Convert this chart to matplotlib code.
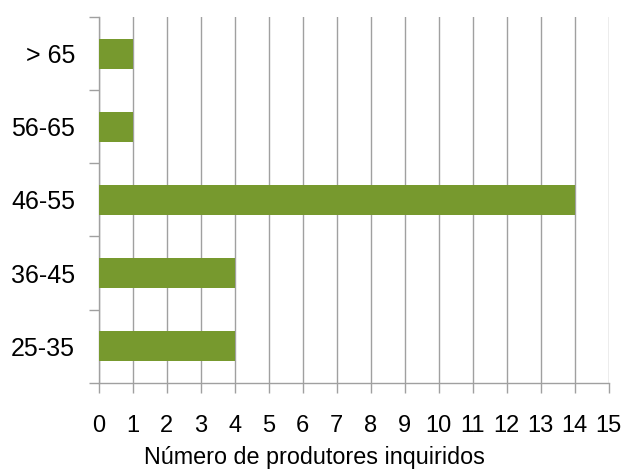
import numpy as np
import matplotlib.pyplot as plt
from matplotlib.ticker import FixedLocator

plt.rcParams['font.family'] = ['Liberation Sans', 'DejaVu Sans']

# dados
faixas = ['25-35', '36-45', '46-55', '56-65', '> 65']
produtores = [4, 4, 14, 1, 1]
x_ticks = list(range(0, 16))

fig = plt.figure(figsize=(6.29, 4.72), dpi=100)
ax = fig.add_axes([0.157, 0.189, 0.811, 0.775])

pos = np.arange(len(faixas))
ax.barh(pos, produtores, height=0.41, color='#77992e', zorder=3)

ax.set_xlim(0, 15)
ax.set_ylim(-0.5, len(faixas) - 0.5)
ax.set_xticks(x_ticks)
ax.set_xticklabels([str(v) for v in x_ticks], fontsize=17)
ax.xaxis.grid(True, color='#a0a0a0', linewidth=1, zorder=0)

# marcas do eixo y nas fronteiras, rotulos no centro
ax.set_yticks(np.arange(-0.5, len(faixas), 1.0))
ax.set_yticklabels([])
ax.yaxis.set_minor_locator(FixedLocator(pos))
ax.set_yticks(pos, minor=True)
ax.set_yticklabels(faixas, minor=True, fontsize=18)
ax.tick_params(axis='y', which='minor', length=0, pad=17)
ax.tick_params(axis='y', which='major', length=7, color='#a0a0a0', width=1)
ax.tick_params(axis='x', length=7, color='#a0a0a0', width=1, pad=16)

for s in ['top', 'right']:
    ax.spines[s].set_visible(False)
for s in ['left', 'bottom']:
    ax.spines[s].set_color('#a0a0a0')
    ax.spines[s].set_linewidth(1)

# titulo do eixo centrado na figura
ax.set_xlabel('Número de produtores inquiridos', fontsize=16.8, labelpad=7)
ax.xaxis.label.set_x(0.4235)

fig.savefig('out.png', dpi=100)
